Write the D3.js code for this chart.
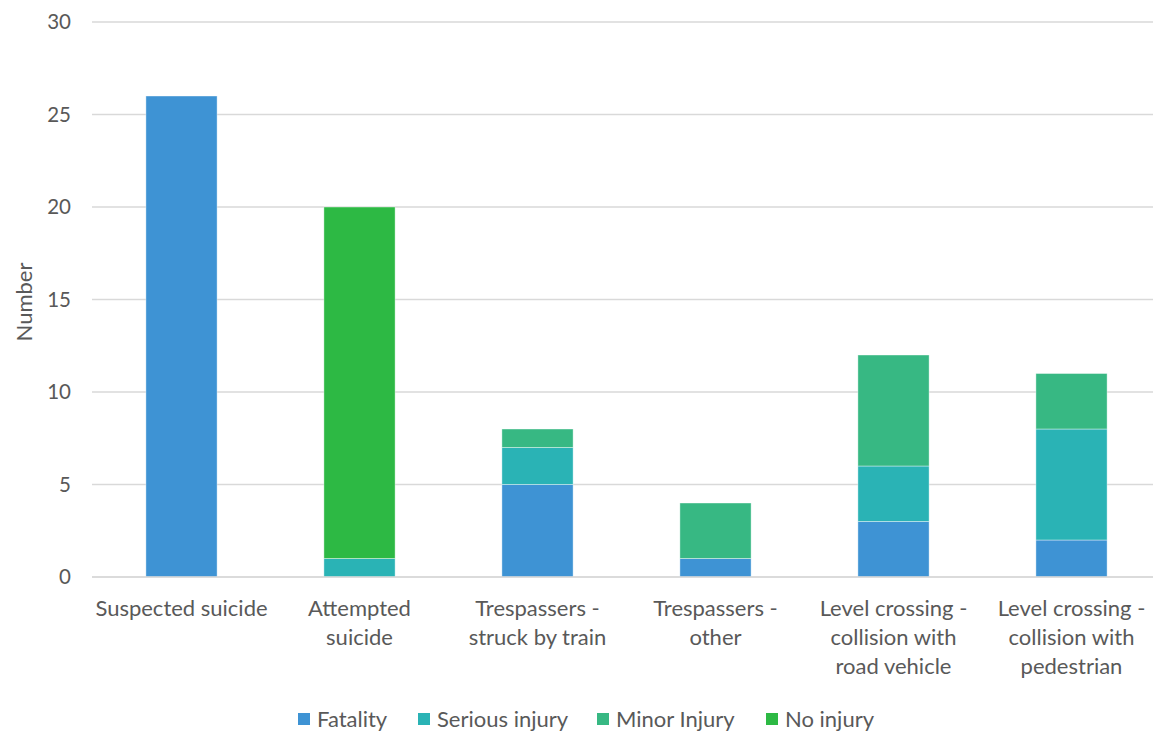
<!DOCTYPE html>
<html>
<head>
<meta charset="utf-8">
<script src="https://cdn.jsdelivr.net/npm/d3@7"></script>
<style>
  body { margin: 0; background: #fff; }
  svg { display: block; }
  text { font-family: Lato, "Open Sans", sans-serif; fill: #595959; }
</style>
</head>
<body>
<svg id="chart" width="1153" height="731"></svg>
<script>
const categories = [
  ["Suspected suicide"],
  ["Attempted", "suicide"],
  ["Trespassers -", "struck by train"],
  ["Trespassers -", "other"],
  ["Level crossing -", "collision with", "road vehicle"],
  ["Level crossing -", "collision with", "pedestrian"]
];
const seriesNames = ["Fatality", "Serious injury", "Minor Injury", "No injury"];
const fatality      = [26, 0, 5, 1, 3, 2];
const seriousInjury = [0, 1, 2, 0, 3, 6];
const minorInjury   = [0, 0, 1, 3, 6, 3];
const noInjury      = [0, 19, 0, 0, 0, 0];
const yTicks = [0, 5, 10, 15, 20, 25, 30];
const colors = ["#3E93D4", "#2AB3B5", "#37B883", "#2DB944"];

const svg = d3.select("#chart");
const keys = categories.map((c, i) => "c" + i);
const rows = keys.map((k, i) => ({
  key: k, label: categories[i],
  s0: fatality[i], s1: seriousInjury[i], s2: minorInjury[i], s3: noInjury[i]
}));

const x = d3.scaleBand().domain(keys).range([92.5, 1160.5]).paddingInner(0.6).paddingOuter(0.3);
const y = d3.scaleLinear().domain([0, 30]).range([577, 22]);

// gridlines
svg.append("g").selectAll("line").data(yTicks).join("line")
  .attr("x1", 92).attr("x2", 1153)
  .attr("y1", d => y(d)).attr("y2", d => y(d))
  .attr("stroke", "#d9d9d9").attr("stroke-width", 1.3);

// y tick labels via axis
const yAxis = svg.append("g").attr("transform", "translate(71,0)")
  .call(d3.axisLeft(y).tickValues(yTicks).tickSize(0).tickPadding(0));
yAxis.select(".domain").remove();
yAxis.selectAll("text").style("font-family", "Lato, sans-serif").attr("font-size", 20.5).attr("fill", "#595959");

// stacks
const stack = d3.stack().keys(["s0", "s1", "s2", "s3"]);
const stacked = stack(rows);
svg.append("g").selectAll("g").data(stacked).join("g")
  .attr("fill", (d, i) => colors[i])
  .selectAll("rect").data(d => d.filter(p => p[1] - p[0] > 0)).join("rect")
  .attr("x", d => x(d.data.key))
  .attr("width", x.bandwidth())
  .attr("y", d => y(d[1]))
  .attr("height", d => y(d[0]) - y(d[1]))
  .attr("stroke", "rgba(255,255,255,0.5)").attr("stroke-width", 0.8);

// baseline
svg.append("line").attr("x1", 92).attr("x2", 1153).attr("y1", y(0)).attr("y2", y(0))
  .attr("stroke", "#d9d9d9").attr("stroke-width", 1.3);

// x labels
const xl = svg.append("g");
rows.forEach(r => {
  const t = xl.append("text")
    .attr("x", x(r.key) + x.bandwidth() / 2)
    .attr("text-anchor", "middle").attr("font-size", 22);
  r.label.forEach((line, j) => {
    t.append("tspan").attr("x", x(r.key) + x.bandwidth() / 2).attr("y", 616 + j * 29).text(line);
  });
});

// y title
svg.append("text").attr("transform", "translate(32,302) rotate(-90)")
  .attr("text-anchor", "middle").attr("font-size", 22).text("Number");

// legend
const legendX = [298, 418, 597, 766];
const lg = svg.append("g");
seriesNames.forEach((n, i) => {
  lg.append("rect").attr("x", legendX[i]).attr("y", 713).attr("width", 12).attr("height", 12).attr("fill", colors[i]);
  lg.append("text").attr("x", legendX[i] + 19).attr("y", 727).attr("font-size", 22).text(n);
});
</script>
</body>
</html>
